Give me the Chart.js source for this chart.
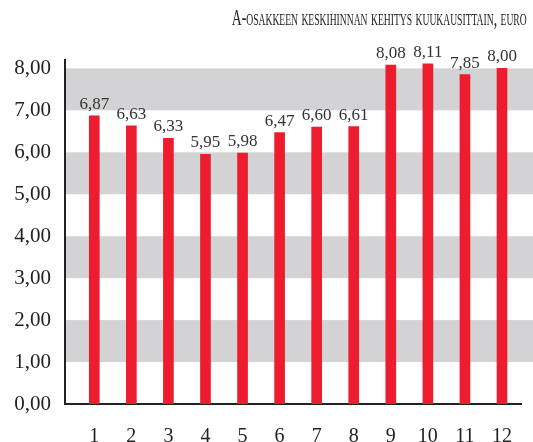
<!DOCTYPE html>
<html>
<head>
<meta charset="utf-8">
<script src="https://cdn.jsdelivr.net/npm/chart.js@4"></script>
<style>
  html, body { margin: 0; padding: 0; background: #fff; }
  #wrap { position: relative; width: 533px; height: 442px; }
  #title {
    position: absolute; right: 6px; top: 5px;
    font-family: "Liberation Serif", serif; font-size: 23px;
    font-variant: small-caps; color: #222; white-space: nowrap;
    transform: scaleX(0.6); transform-origin: right top;
  }
</style>
</head>
<body>
<div id="wrap">
  <div id="title">A-osakkeen keskihinnan kehitys kuukausittain, euro</div>
  <canvas id="chart" width="533" height="442"></canvas>
</div>
<script>
// months 1..12 and average price per month (EUR)
const months = [1, 2, 3, 4, 5, 6, 7, 8, 9, 10, 11, 12];
const prices = [6.87, 6.63, 6.33, 5.95, 5.98, 6.47, 6.60, 6.61, 8.08, 8.11, 7.85, 8.00];
const yTicks = [0, 1, 2, 3, 4, 5, 6, 7, 8];
const greyBands = [[1, 2], [3, 4], [5, 6], [7, 8]];

const fmt = (v) => v.toFixed(2).replace(".", ",");

// grey horizontal bands behind the bars
const bandsPlugin = {
  id: "bands",
  beforeDatasetsDraw(chart) {
    const { ctx, chartArea, scales } = chart;
    ctx.save();
    ctx.fillStyle = "#d3d3d5";
    greyBands.forEach(([a, b]) => {
      const y1 = scales.y.getPixelForValue(b);
      const y2 = scales.y.getPixelForValue(a);
      ctx.fillRect(chartArea.left + 1, y1, chart.width - chartArea.left - 1, y2 - y1);
    });
    ctx.restore();
  },
};

// value labels above the bars
const labelsPlugin = {
  id: "valueLabels",
  afterDatasetsDraw(chart) {
    const { ctx } = chart;
    const meta = chart.getDatasetMeta(0);
    ctx.save();
    ctx.font = '17px "Liberation Serif"';
    ctx.fillStyle = "#333";
    ctx.textAlign = "center";
    ctx.textBaseline = "alphabetic";
    meta.data.forEach((bar, i) => {
      ctx.fillText(fmt(prices[i]), bar.x, bar.y - 7);
    });
    ctx.restore();
  },
};

new Chart(document.getElementById("chart"), {
  type: "bar",
  data: {
    datasets: [{
      data: months.map((m, i) => ({ x: m, y: prices[i] })),
      backgroundColor: "#ed1c2e",
      borderWidth: 0,
      barThickness: 10,
    }],
  },
  options: {
    responsive: false,
    animation: false,
    layout: { padding: { top: 60, right: 0, left: 0, bottom: 0 } },
    plugins: { legend: { display: false }, tooltip: { enabled: false }, title: { display: false } },
    scales: {
      x: {
        type: "linear",
        offset: false,
        min: 0.21,
        max: 12.53,
        afterBuildTicks: (s) => { s.ticks = months.map((v) => ({ value: v })); },
        afterFit: (s) => { s.height = 38; },
        grid: { display: false, drawTicks: false, offset: false },
        border: { display: true, color: "#222", width: 2 },
        ticks: {
          color: "#222",
          padding: 21,
          maxRotation: 0,
          autoSkip: false,
          font: { family: "Liberation Serif", size: 20 },
          callback: (v) => String(v),
        },
      },
      y: {
        min: 0,
        max: 8.2,
        afterBuildTicks: (s) => { s.ticks = yTicks.map((v) => ({ value: v })); },
        afterFit: (s) => { s.width = 65; },
        grid: { display: false, drawTicks: false },
        border: { display: true, color: "#222", width: 2 },
        ticks: {
          color: "#222",
          padding: 14,
          font: { family: "Liberation Serif", size: 21 },
          callback: (v) => fmt(v),
        },
      },
    },
  },
  plugins: [bandsPlugin, labelsPlugin],
});
</script>
</body>
</html>
